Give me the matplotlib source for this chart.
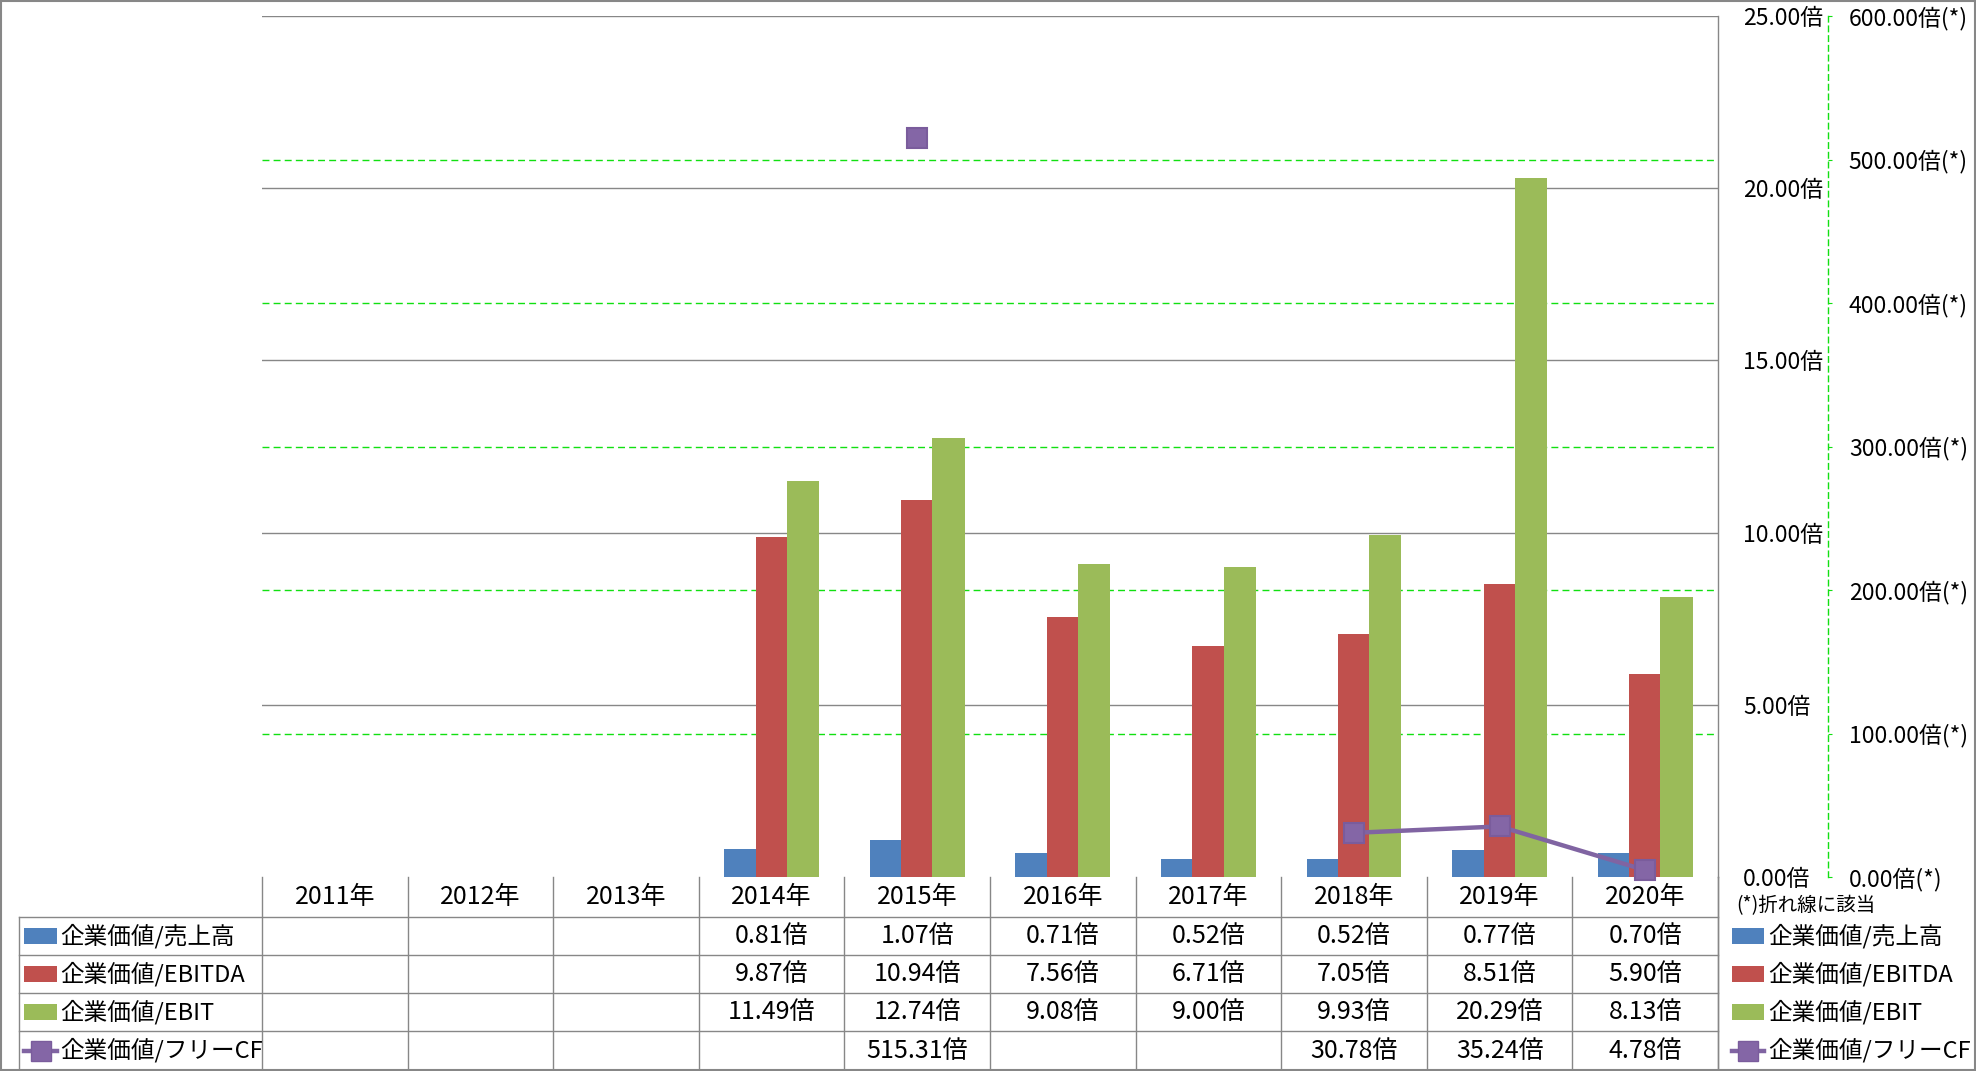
import numpy as np
import matplotlib
matplotlib.use("Agg")
import matplotlib.pyplot as plt
from matplotlib.lines import Line2D
from matplotlib.patches import Rectangle
from matplotlib.transforms import blended_transform_factory

plt.rcParams['font.family'] = ['Noto Sans CJK JP', 'DejaVu Sans']

# ---------------- data ----------------
years = ["2011年", "2012年", "2013年", "2014年", "2015年", "2016年", "2017年", "2018年", "2019年", "2020年"]
nan = np.nan
ev_sales = [nan, nan, nan, 0.81, 1.07, 0.71, 0.52, 0.52, 0.77, 0.70]
ev_ebitda = [nan, nan, nan, 9.87, 10.94, 7.56, 6.71, 7.05, 8.51, 5.90]
ev_ebit = [nan, nan, nan, 11.49, 12.74, 9.08, 9.00, 9.93, 20.29, 8.13]
ev_fcf = [nan, nan, nan, nan, 515.31, nan, nan, 30.78, 35.24, 4.78]
series_names = ["企業価値/売上高", "企業価値/EBITDA", "企業価値/EBIT", "企業価値/フリーCF"]
primary_ticks = [0, 5, 10, 15, 20, 25]
secondary_ticks = [0, 100, 200, 300, 400, 500, 600]
note_text = "(*)折れ線に該当"

colors = ["#4F81BD", "#C0504D", "#9BBB59", "#8064A2"]
GRID_GRAY = "#878787"
GREEN = "#11E011"

W, H = 1976, 1071
fig = plt.figure(figsize=(W / 100, H / 100), dpi=100)

def fx(x):
    return x / W

def fy(y):
    return 1 - y / H

plot_l, plot_r, plot_t, plot_b = 262, 1718, 16, 877
ax = fig.add_axes([fx(plot_l), fy(plot_b), fx(plot_r - plot_l), (plot_b - plot_t) / H])
n = len(years)
x = np.arange(n) + 0.5
ax.set_xlim(0, n)
ax.set_ylim(primary_ticks[0], primary_ticks[-1])

bw = 0.22
for k, vals in enumerate([ev_sales, ev_ebitda, ev_ebit]):
    ax.bar(x + (k - 1) * 0.215, vals, width=bw, color=colors[k], zorder=3, linewidth=0)

# primary gridlines
for t in primary_ticks[1:]:
    ax.axhline(t, color=GRID_GRAY, lw=1.0, zorder=1)
# secondary gridlines (drawn on primary axes to stay behind bars)
ratio = primary_ticks[-1] / secondary_ticks[-1]
for t in secondary_ticks[1:-1]:
    ax.axhline(t * ratio, color=GREEN, lw=1.0, ls=(0, (5, 3)), zorder=1)

ax2 = ax.twinx()

for s in ["top", "left", "bottom"]:
    ax.spines[s].set_visible(False)
ax.spines["right"].set_color(GRID_GRAY)
ax.spines["right"].set_linewidth(1.0)
ax.set_xticks([])
ax.set_yticks(primary_ticks)
ax.set_yticklabels([f"{t:.2f}倍" for t in primary_ticks])
ax.yaxis.tick_right()
ax.yaxis.set_label_position("right")
ax.tick_params(axis="y", left=False, labelleft=False, right=True, labelright=True,
               length=0, pad=18, labelsize=16.5)

ax2.set_ylim(secondary_ticks[0], secondary_ticks[-1])
for s in ["top", "left", "bottom"]:
    ax2.spines[s].set_visible(False)
ax2.spines["right"].set_position(("axes", (1828 - plot_l) / (plot_r - plot_l)))
ax2.spines["right"].set_color(GREEN)
ax2.spines["right"].set_linestyle((0, (4, 3)))
ax2.spines["right"].set_linewidth(1.0)
ax2.set_xticks([])
ax2.set_yticks(secondary_ticks)
ax2.set_yticklabels([f"{t:.2f}倍(*)" for t in secondary_ticks])
ax2.tick_params(axis="y", length=3, color=GREEN, pad=12, labelsize=16.5)
ax2.plot(x, ev_fcf, color=colors[3], lw=3.2, marker="s", markersize=15,
         markerfacecolor="#8466A6", markeredgecolor="#7A5C9C", markeredgewidth=1.5,
         clip_on=False, zorder=5)

# ---------------- table ----------------
bt = blended_transform_factory(ax.transData, fig.transFigure)
row_edges = [877, 917, 955, 993, 1031, 1070]
tab_left = 19
lc = GRID_GRAY
lw = 1.0

for i in range(n + 1):
    fig.add_artist(Line2D([i, i], [fy(row_edges[0]), fy(row_edges[-1])], transform=bt, color=lc, lw=lw))
for r in row_edges[1:]:
    fig.add_artist(Line2D([fx(tab_left), fx(plot_r)], [fy(r), fy(r)], color=lc, lw=lw))
fig.add_artist(Line2D([fx(tab_left), fx(tab_left)], [fy(row_edges[1]), fy(row_edges[-1])], color=lc, lw=lw))

fs_tab = 18
hc = (row_edges[0] + row_edges[1]) / 2
for i in range(n):
    fig.text(x[i], fy(hc), years[i], transform=bt, ha="center", va="center", fontsize=fs_tab)

all_series = [ev_sales, ev_ebitda, ev_ebit, ev_fcf]
for r, vals in enumerate(all_series):
    yc = (row_edges[r + 1] + row_edges[r + 2]) / 2
    for i in range(n):
        v = vals[i]
        if not np.isnan(v):
            fig.text(x[i], fy(yc), f"{v:.2f}倍", transform=bt, ha="center", va="center", fontsize=fs_tab)

def legend_key(x0, x1, yc, k):
    if k < 3:
        fig.add_artist(Rectangle((fx(x0), fy(yc + 8)), fx(x1 - x0), 16 / H,
                                 facecolor=colors[k], edgecolor="none"))
    else:
        fig.add_artist(Line2D([fx(x0), fx(x1)], [fy(yc), fy(yc)], color=colors[k], lw=3.2))
        fig.add_artist(Line2D([fx((x0 + x1) / 2)], [fy(yc)], color=colors[k], marker="s",
                              markersize=15, markerfacecolor="#8466A6", markeredgecolor="#7A5C9C"))

fs_leg = 17
for k, name in enumerate(series_names):
    yc = (row_edges[k + 1] + row_edges[k + 2]) / 2
    legend_key(24, 57, yc, k)
    fig.text(fx(60), fy(yc), name, ha="left", va="center", fontsize=fs_leg)
    legend_key(1732, 1764, yc, k)
    fig.text(fx(1768), fy(yc), name, ha="left", va="center", fontsize=fs_leg)

fig.text(fx(1736), fy(906), note_text, ha="left", va="center", fontsize=14)

fig.add_artist(Line2D([fx(plot_r), fx(plot_r)], [fy(plot_b), fy(row_edges[-1])], color=lc, lw=lw))

fig.add_artist(Rectangle((0.0005, 0.0005), 0.999, 0.999, transform=fig.transFigure,
                         fill=False, edgecolor=GRID_GRAY, lw=1.5))

fig.savefig("out.png", dpi=100, facecolor="white")
